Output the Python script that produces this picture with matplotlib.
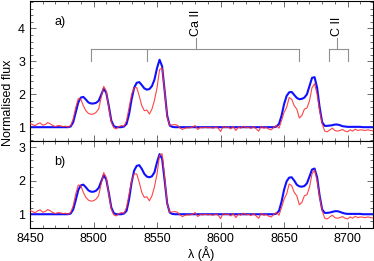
import numpy as np
import matplotlib
matplotlib.use("Agg")
import matplotlib.pyplot as plt
from matplotlib.ticker import MultipleLocator

plt.rcParams['font.family'] = ['Liberation Sans', 'DejaVu Sans']

wave = np.arange(8450, 8722, 2)

model_a = [
    1.0, 1.0, 1.0, 1.0, 1.0, 1.0, 1.0, 1.0, 1.0, 1.0, 1.0, 1.0, 1.0, 1.0, 1.0, 1.0,  # 8450-8480
    1.02, 1.15, 1.45, 1.75, 1.90, 1.92, 1.84, 1.75, 1.72, 1.72, 1.74, 1.80, 1.98, 2.17, 2.05, 1.65,  # 8482-8512
    1.2, 1.03, 1.0, 1.0, 1.0, 1.02, 1.1, 1.4, 1.85, 2.2, 2.35, 2.37, 2.28, 2.18, 2.14, 2.16,  # 8514-8544
    2.25, 2.45, 2.8, 3.05, 2.85, 2.1, 1.35, 1.05, 1.01, 1.0, 1.0, 1.0, 1.0, 1.0, 1.0, 1.0,  # 8546-8576
    1.0, 1.0, 1.0, 1.0, 1.0, 1.0, 1.0, 1.0, 1.0, 1.0, 1.0, 1.0, 1.0, 1.0, 1.0, 1.0,  # 8578-8608
    1.0, 1.0, 1.0, 1.0, 1.0, 1.0, 1.0, 1.0, 1.0, 1.0, 1.0, 1.0, 1.0, 1.0, 1.0, 1.0,  # 8610-8640
    1.0, 1.02, 1.1, 1.35, 1.7, 1.95, 2.06, 2.07, 1.98, 1.89, 1.85, 1.86, 1.9, 2.0, 2.25, 2.5,  # 8642-8672
    2.52, 2.2, 1.6, 1.15, 1.04, 1.04, 1.05, 1.06, 1.08, 1.08, 1.06, 1.03, 1.02, 1.01, 1.01, 1.01,  # 8674-8704
    1.01, 1.01, 1.01, 1.0, 1.0, 1.0, 1.0, 1.0,  # 8706-8720
]

model_b = [
    1.0, 1.0, 1.0, 1.0, 1.0, 1.0, 1.0, 1.0, 1.0, 1.0, 1.0, 1.0, 1.0, 1.0, 1.0, 1.0,
    1.02, 1.14, 1.42, 1.72, 1.86, 1.88, 1.80, 1.71, 1.67, 1.67, 1.70, 1.78, 1.97, 2.16, 2.04, 1.64,
    1.2, 1.03, 1.0, 1.0, 1.0, 1.02, 1.1, 1.45, 1.95, 2.3, 2.44, 2.46, 2.35, 2.2, 2.12, 2.10,
    2.13, 2.25, 2.55, 2.79, 2.65, 2.0, 1.32, 1.05, 1.01, 1.0, 1.0, 1.0, 1.0, 1.0, 1.0, 1.0,
    1.0, 1.0, 1.0, 1.0, 1.0, 1.0, 1.0, 1.0, 1.0, 1.0, 1.0, 1.0, 1.0, 1.0, 1.0, 1.0,
    1.0, 1.0, 1.0, 1.0, 1.0, 1.0, 1.0, 1.0, 1.0, 1.0, 1.0, 1.0, 1.0, 1.0, 1.0, 1.0,
    1.0, 1.02, 1.1, 1.37, 1.73, 1.98, 2.09, 2.10, 2.0, 1.88, 1.83, 1.82, 1.84, 1.92, 2.12, 2.33,
    2.36, 2.1, 1.55, 1.14, 1.04, 1.04, 1.05, 1.07, 1.09, 1.09, 1.07, 1.04, 1.02, 1.01, 1.01, 1.01,
    1.01, 1.01, 1.01, 1.0, 1.0, 1.0, 1.0, 1.0,
]

observed = [
    1.11, 1.08, 1.04, 1.10, 1.13, 1.06, 1.08, 1.14, 1.10, 1.05, 1.02, 1.05, 1.04, 1.02, 1.03, 1.0,  # 8450-8480
    1.05, 1.25, 1.6, 1.87, 1.85, 1.65, 1.5, 1.42, 1.39, 1.4, 1.45, 1.55, 1.9, 2.24, 2.1, 1.6,  # 8482-8512
    1.15, 0.98, 0.95, 1.02, 1.05, 1.03, 1.2, 1.6, 2.0, 2.2, 2.2, 1.95, 1.65, 1.5, 1.52, 1.4,  # 8514-8544
    1.55, 1.82, 2.2, 2.75, 2.8, 2.1, 1.3, 1.06, 1.07, 1.08, 1.06, 0.98, 0.93, 0.97, 0.98, 0.98,  # 8546-8576
    1.0, 1.05, 0.93, 0.99, 0.98, 1.0, 0.98, 0.99, 0.97, 1.0, 0.98, 0.87, 1.02, 0.99, 1.0, 0.95,  # 8578-8608
    1.02, 0.9, 1.0, 0.97, 1.03, 0.98, 1.0, 0.96, 1.02, 0.95, 0.88, 1.03, 0.97, 0.99, 0.94, 0.92,  # 8610-8640
    1.0, 1.05, 0.97, 1.2, 1.45, 1.6, 1.9, 1.85, 1.65, 1.55, 1.28, 1.35, 1.55, 1.58, 1.8, 2.2,  # 8642-8672
    2.32, 2.0, 1.5, 1.1, 0.88, 0.86, 0.92, 0.97, 0.9, 0.88, 0.9, 0.93, 0.88, 0.86, 0.92, 0.88,  # 8674-8704
    0.94, 0.9, 0.92, 0.91, 0.9, 0.92, 0.9, 0.89,  # 8706-8720
]

ca_lines = [8498, 8542, 8662]
c_lines = [8685, 8700]

BLUE = '#1010ff'
RED = '#ff3030'
GREY = '#909090'

fig = plt.figure(figsize=(3.74, 2.61), dpi=100)
left, right = 30 / 374, 373 / 374
ax1 = fig.add_axes([left, 1 - 141 / 261, right - left, 141 / 261 - 0.002])
ax2 = fig.add_axes([left, 1 - 228 / 261, right - left, 87 / 261])

for ax, model in ((ax1, model_a), (ax2, model_b)):
    ax.plot(wave, model, color=BLUE, lw=1.5, zorder=2)
    ax.plot(wave, observed, color=RED, lw=0.8, alpha=0.9, zorder=3)
    ax.set_xlim(8450, 8720)
    ax.xaxis.set_major_locator(MultipleLocator(50))
    ax.xaxis.set_minor_locator(MultipleLocator(10))
    ax.yaxis.set_major_locator(MultipleLocator(1))
    ax.yaxis.set_minor_locator(MultipleLocator(0.2))
    ax.tick_params(which='both', direction='in', top=True, right=True, labelsize=9,
                   color='#555555', width=0.6)
    ax.tick_params(which='major', length=4)
    ax.tick_params(which='minor', length=2)
    for s in ax.spines.values():
        s.set_linewidth(0.8)

ax1.set_ylim(0.58, 4.85)
ax2.set_ylim(0.59, 3.18)
ax1.tick_params(labelbottom=False)
ax1.spines['bottom'].set_color('black')

# Ca II bracket
yh, yl, ys = 3.39, 3.0, 3.72
ax1.plot([ca_lines[0], ca_lines[-1]], [yh, yh], color=GREY, lw=0.8)
for w in ca_lines:
    ax1.plot([w, w], [yl, yh], color=GREY, lw=0.8)
ca_c = 8581
ax1.plot([ca_c, ca_c], [yh, ys], color=GREY, lw=0.8)
ax1.text(ca_c, ys + 0.05, 'Ca II', rotation=90, ha='center', va='bottom', fontsize=9)

# C II bracket
ax1.plot([c_lines[0], c_lines[-1]], [yh, yh], color=GREY, lw=0.8)
for w in c_lines:
    ax1.plot([w, w], [yl, yh], color=GREY, lw=0.8)
c_c = 8692
ax1.plot([c_c, c_c], [yh, ys], color=GREY, lw=0.8)
ax1.text(c_c, ys + 0.05, 'C II', rotation=90, ha='center', va='bottom', fontsize=9)

ax1.text(0.087, 0.85, 'a)', transform=ax1.transAxes, ha='center', va='center', fontsize=9)
ax2.text(0.087, 0.76, 'b)', transform=ax2.transAxes, ha='center', va='center', fontsize=9)

ax2.set_xlabel('λ (Å)', fontsize=9, labelpad=1)
fig.text(8 / 374, 1 - 103 / 261, 'Normalised flux', rotation=90, ha='center', va='center', fontsize=9)

fig.savefig('out.png', dpi=100)
